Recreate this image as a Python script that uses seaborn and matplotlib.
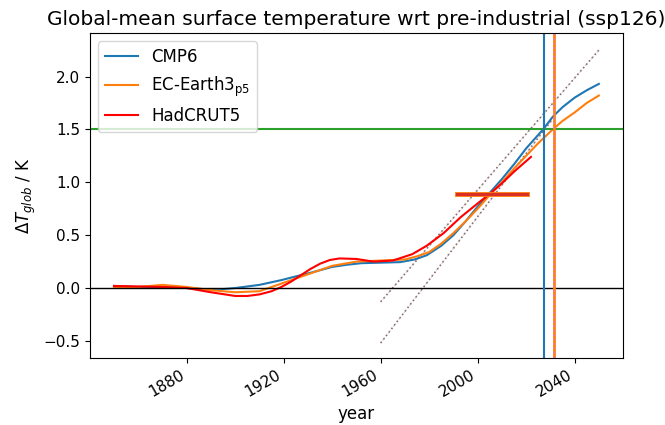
import pandas as pd
import matplotlib
matplotlib.use('Agg')
import matplotlib.pyplot as plt
import seaborn as sns

# smoothed global-mean temperature anomalies (K)
cmp6_year = [1850, 1860, 1870, 1880, 1890, 1895, 1900, 1910, 1919, 1925, 1932, 1940, 1946, 1952,
             1960, 1968, 1974, 1979, 1985, 1990, 1995, 2000, 2005, 2010, 2015, 2020, 2027, 2031,
             2035, 2040, 2045, 2050]
cmp6_temp = [0.02, 0.01, 0.01, 0.0, -0.015, -0.01, 0.0, 0.03, 0.075, 0.11, 0.15, 0.2, 0.22, 0.235,
             0.24, 0.245, 0.27, 0.31, 0.4, 0.5, 0.63, 0.77, 0.9, 1.03, 1.17, 1.32, 1.5, 1.62,
             1.71, 1.8, 1.87, 1.93]

ece_year = [1850, 1860, 1870, 1880, 1890, 1900, 1910, 1920, 1930, 1940, 1950, 1960, 1970,
            1975, 1980, 1985, 1990, 1995, 2000, 2005, 2010, 2015, 2020, 2025, 2031, 2035,
            2040, 2045, 2050]
ece_temp = [0.01, 0.01, 0.03, 0.01, -0.02, -0.04, -0.03, 0.05, 0.13, 0.21, 0.25, 0.26, 0.27,
            0.3, 0.34, 0.42, 0.52, 0.63, 0.75, 0.88, 1.0, 1.13, 1.25, 1.37, 1.5, 1.58,
            1.66, 1.75, 1.82]

had_year = [1850, 1860, 1870, 1880, 1890, 1900, 1905, 1910, 1915, 1919, 1923, 1927, 1931, 1935,
            1939, 1943, 1950, 1957, 1965, 1973, 1979, 1986, 1993, 2000, 2005, 2010, 2015, 2022]
had_temp = [0.02, 0.015, 0.01, 0.0, -0.04, -0.075, -0.075, -0.06, -0.03, 0.01, 0.06, 0.12, 0.18,
            0.23, 0.265, 0.28, 0.275, 0.25, 0.26, 0.32, 0.4, 0.52, 0.67, 0.8, 0.89, 0.99, 1.1, 1.24]

# linear trends (dotted) and crossing years of the 1.5 K level
trend1_year = [1960, 2050]
trend1_temp = [-0.13, 2.25]
trend2_year = [1960, 2031]
trend2_temp = [-0.52, 1.6]
cross_cmp6 = 2027.3
cross_ece = 2031.3
cross_had = 2031.7

# 1991-2020 reference mean
ref_year = [1991.5, 2020.5]
ref_temp = [0.89, 0.89]

xticks = [1880, 1920, 1960, 2000, 2040]

plt.rcParams['font.family'] = ['DejaVu Sans']
fig, ax = plt.subplots(figsize=(6.65, 4.25), dpi=100)
fig.subplots_adjust(left=0.135, right=0.937, top=0.922, bottom=0.158)

for yr, tp in [(trend1_year, trend1_temp), (trend2_year, trend2_temp)]:
    sns.lineplot(x=yr, y=tp, ax=ax, color='tab:gray', linestyle=':', lw=1.2)
    sns.lineplot(x=yr, y=tp, ax=ax, color='tab:red', linestyle=':', lw=0.8, alpha=0.3)

sns.lineplot(x=cmp6_year, y=cmp6_temp, ax=ax, color='tab:blue', lw=1.5, label='CMP6')
sns.lineplot(x=ece_year, y=ece_temp, ax=ax, color='tab:orange', lw=1.5, label='EC-Earth3$_{\\rm p5}$')
sns.lineplot(x=had_year, y=had_temp, ax=ax, color='red', lw=1.5, label='HadCRUT5')

sns.lineplot(x=ref_year, y=ref_temp, ax=ax, color='tab:orange', lw=3.5)
sns.lineplot(x=ref_year, y=ref_temp, ax=ax, color='tab:red', lw=2.2, alpha=0.9)

ax.axhline(0, color='black', lw=1)
ax.axhline(1.5, color='tab:green', lw=1.5)
ax.axvline(cross_cmp6, color='tab:blue', lw=1.5)
ax.axvline(cross_ece, color='tab:orange', lw=2)
ax.axvline(cross_had, color='tab:pink', lw=1.2, linestyle=':')

ax.set_xlim(1840, 2060)
ax.set_ylim(-0.66, 2.41)
ax.set_xticks(xticks)
ax.set_xticklabels([str(t) for t in xticks], rotation=30, ha='right')
ax.tick_params(labelsize=11)
ax.set_xlabel('year', fontsize=12)
ax.set_ylabel('$\\Delta T_{glob}$ / K', fontsize=12)
ax.set_title('Global-mean surface temperature wrt pre-industrial (ssp126)', fontsize=14.5)
ax.legend(loc='upper left', fontsize=12)

fig.savefig('out.png', dpi=100)
